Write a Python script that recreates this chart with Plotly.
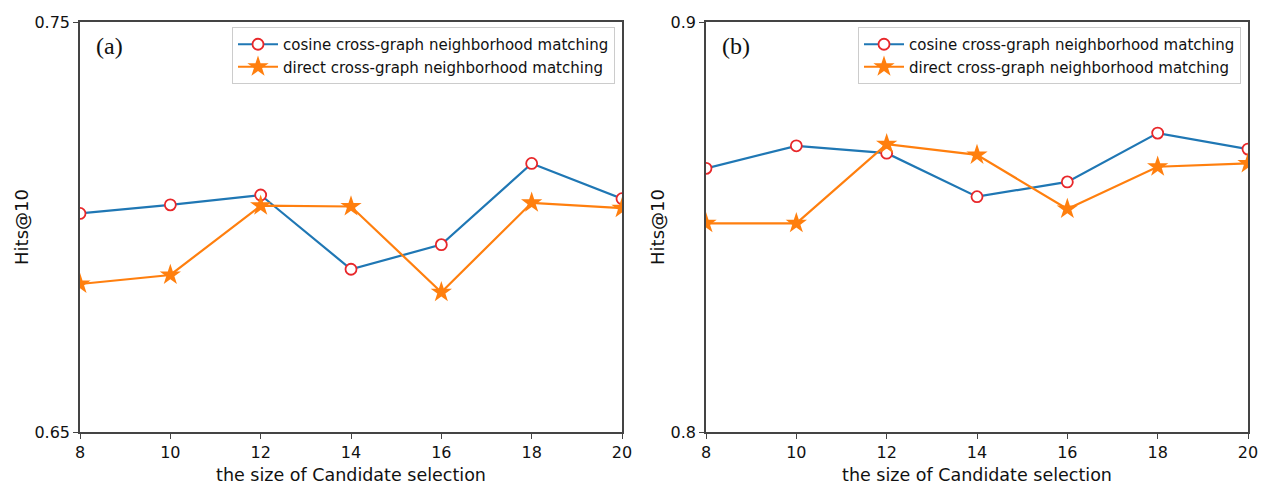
import plotly.graph_objects as go

x_sizes = [8, 10, 12, 14, 16, 18, 20]
cosine_a = [0.7033, 0.7054, 0.7078, 0.6897, 0.6957, 0.7155, 0.7069]
direct_a = [0.6861, 0.6883, 0.7052, 0.7050, 0.6841, 0.7059, 0.7046]
cosine_b = [0.8643, 0.8698, 0.8680, 0.8574, 0.8610, 0.8729, 0.8690]
direct_b = [0.8509, 0.8509, 0.8702, 0.8676, 0.8544, 0.8647, 0.8655]
name_cos = "cosine cross-graph neighborhood matching"
name_dir = "direct cross-graph neighborhood matching"
yticks_a = [0.65, 0.75]
yticks_b = [0.8, 0.9]
yticklabels_a = ["0.65", "0.75"]
yticklabels_b = ["0.8", "0.9"]
xticks = [8, 10, 12, 14, 16, 18, 20]

W, H = 1262, 485
ML, MR, MT, MB = 80, 14, 22, 53
PW, PH = W - ML - MR, H - MT - MB
BLUE = "#1f77b4"
ORANGE = "#ff7f0e"
RED = "#e8272a"
AX = "#444444"
FONT = "DejaVu Sans"


def px_x(px):
    return (px - ML) / PW


def px_y(py):
    return (H - MB - py) / PH


fig = go.Figure()


def add_pair(cos, dire, xa, ya, leg):
    fig.add_trace(go.Scatter(
        x=x_sizes, y=cos, name=name_cos, mode="lines+markers",
        line=dict(color=BLUE, width=2.2),
        marker=dict(symbol="circle", size=11, color="white",
                    line=dict(color=RED, width=1.8)),
        xaxis=xa, yaxis=ya, legend=leg))
    fig.add_trace(go.Scatter(
        x=x_sizes, y=dire, name=name_dir, mode="lines+markers",
        line=dict(color=ORANGE, width=2.2),
        marker=dict(symbol="star", size=16, color=ORANGE,
                    line=dict(color=ORANGE, width=0)),
        xaxis=xa, yaxis=ya, legend=leg))


add_pair(cosine_a, direct_a, "x", "y", "legend")
add_pair(cosine_b, direct_b, "x2", "y2", "legend2")

axcommon = dict(showline=True, linecolor=AX, linewidth=1.6, mirror=True,
                showgrid=False, zeroline=False, ticks="outside", ticklen=5,
                tickwidth=1.3, tickcolor=AX, automargin=False,
                tickfont=dict(family=FONT, size=16, color="#111111"))
xtitle = dict(text="the size of Candidate selection", standoff=17,
              font=dict(family=FONT, size=17.5, color="#111111"))
ytitle = dict(text="Hits@10", standoff=1,
              font=dict(family=FONT, size=18, color="#111111"))
legcommon = dict(xanchor="right", yanchor="top",
                 bgcolor="rgba(255,255,255,0.8)", bordercolor="#cccccc",
                 borderwidth=1, font=dict(family=FONT, size=15, color="#111111"),
                 tracegroupgap=0, itemwidth=40)

fig.update_layout(
    width=W, height=H,
    margin=dict(l=ML, r=MR, t=MT, b=MB, autoexpand=False),
    paper_bgcolor="white", plot_bgcolor="white",
    font=dict(family=FONT, color="#111111"),
    xaxis=dict(domain=[0, px_x(622)], range=[8, 20], tickvals=xticks,
               title=xtitle, **axcommon),
    yaxis=dict(domain=[0, 1], range=[0.65, 0.75], tickvals=yticks_a,
               ticktext=yticklabels_a, title=ytitle, **axcommon),
    xaxis2=dict(domain=[px_x(706), 1], range=[8, 20], tickvals=xticks,
                anchor="y2", title=xtitle, **axcommon),
    yaxis2=dict(domain=[0, 1], range=[0.8, 0.9], tickvals=yticks_b,
                ticktext=yticklabels_b, anchor="x2", title=ytitle, **axcommon),
    legend=dict(x=px_x(615), y=px_y(27), **legcommon),
    legend2=dict(x=px_x(1241), y=px_y(27), **legcommon),
    annotations=[
        dict(text="(a)", x=px_x(94), y=px_y(46), xref="paper", yref="paper",
             xanchor="left", yanchor="middle", showarrow=False,
             font=dict(family="Liberation Serif", size=24, color="#111111")),
        dict(text="(b)", x=px_x(720), y=px_y(46), xref="paper", yref="paper",
             xanchor="left", yanchor="middle", showarrow=False,
             font=dict(family="Liberation Serif", size=24, color="#111111")),
    ],
)

fig.write_html("out.html")
